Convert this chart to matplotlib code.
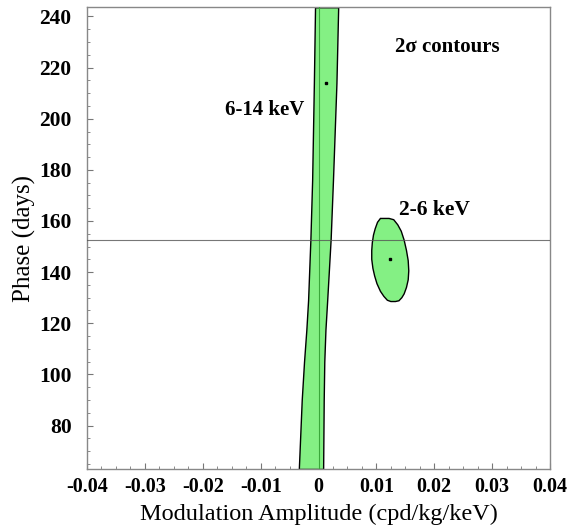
#!/usr/bin/env python3
import matplotlib
matplotlib.use("Agg")
import matplotlib.pyplot as plt
from matplotlib.ticker import MultipleLocator

# 6-14 keV contour band, edges (phase, amplitude)
band_phase = [243.6, 214.0, 176.0, 153.0, 129.0, 117.5, 105.0, 90.0, 63.0]
band_left = [-0.0006, -0.0008, -0.0011, -0.0014, -0.0018, -0.0021, -0.0025, -0.0029, -0.0034]
band_right = [0.0034, 0.0031, 0.0025, 0.0021, 0.0015, 0.0012, 0.0010, 0.0009, 0.0008]
band_best = (0.0013, 213.8)

# 2-6 keV closed contour (amplitude, phase)
ell_amp = [0.0107, 0.0122, 0.0130, 0.0137, 0.0143, 0.0148, 0.0152, 0.0155, 0.0156,
           0.0155, 0.0152, 0.0148, 0.0144, 0.0139, 0.0133, 0.0125, 0.0119,
           0.0113, 0.0107, 0.0101, 0.0097, 0.0094, 0.0092, 0.0092, 0.0093,
           0.0095, 0.0098, 0.0102]
ell_phase = [161.0, 161.0, 160.5, 158.5, 156.0, 152.5, 148.5, 144.5, 140.5,
             137.0, 134.0, 131.5, 130.0, 128.8, 128.5, 128.5, 129.0,
             130.5, 132.5, 135.5, 138.5, 141.5, 145.0, 148.5, 151.5,
             154.5, 157.0, 159.5]
ell_best = (0.0123, 145.0)

june2 = 152.5

fig = plt.figure(figsize=(5.71, 5.31), dpi=100)
ax = fig.add_axes([0.1524, 0.1168, 0.8108, 0.8695])

green = "#84f084"
ax.fill_betweenx(band_phase, band_left, band_right, facecolor=green,
                 edgecolor="black", linewidth=1.0, zorder=2)
ax.fill(ell_amp, ell_phase, facecolor=green, edgecolor="black", linewidth=1.0, zorder=2)
ax.axvline(0.0, color="#3aa83a", linewidth=0.8, zorder=3)
ax.axhline(june2, color="#555555", linewidth=0.8, alpha=0.8, zorder=3)
ax.plot(*band_best, marker="s", markersize=1.5, color="black", zorder=4)
ax.plot(*ell_best, marker="s", markersize=1.5, color="black", zorder=4)

serif = ["Liberation Serif", "DejaVu Serif"]
ax.text(0.0222, 228.0, "2σ contours", family=serif, fontweight="bold",
        fontsize=15, ha="center", va="center")
ax.text(-0.0093, 203.3, "6-14 keV", family=serif, fontweight="bold",
        fontsize=15, ha="center", va="center")
ax.text(0.0200, 164.3, "2-6 keV", family=serif, fontweight="bold",
        fontsize=15.5, ha="center", va="center")

ax.set_xlim(-0.04, 0.04)
ax.set_ylim(63.0, 243.6)
ax.xaxis.set_major_locator(MultipleLocator(0.01))
ax.xaxis.set_minor_locator(MultipleLocator(0.0025))
ax.yaxis.set_major_locator(MultipleLocator(20))
ax.yaxis.set_minor_locator(MultipleLocator(5))
ax.tick_params(which="both", direction="in", top=False, right=False, color="#777777")
ax.tick_params(which="major", length=4)
ax.tick_params(axis="x", which="major", pad=6)
ax.tick_params(axis="y", which="major", pad=11)
ax.tick_params(which="minor", length=2.5)
ax.set_xticks([-0.04, -0.03, -0.02, -0.01, 0, 0.01, 0.02, 0.03, 0.04])
ax.set_xticklabels(["-0.04", "-0.03", "-0.02", "-0.01", "0", "0.01", "0.02", "0.03", "0.04"])
for lab in ax.get_xticklabels():
    lab.set_family(serif)
    lab.set_fontweight("bold")
    lab.set_fontsize(14.5)
for lab in ax.get_yticklabels():
    lab.set_family(serif)
    lab.set_fontweight("bold")
    lab.set_fontsize(15.5)
for sp in ax.spines.values():
    sp.set_color("#888888")
    sp.set_linewidth(1.0)

ax.set_xlabel("Modulation Amplitude (cpd/kg/keV)", family=serif, fontsize=17.5, labelpad=5)
ax.set_ylabel("Phase (days)", family=serif, fontsize=18, labelpad=2)

fig.savefig("out.png", dpi=100)
